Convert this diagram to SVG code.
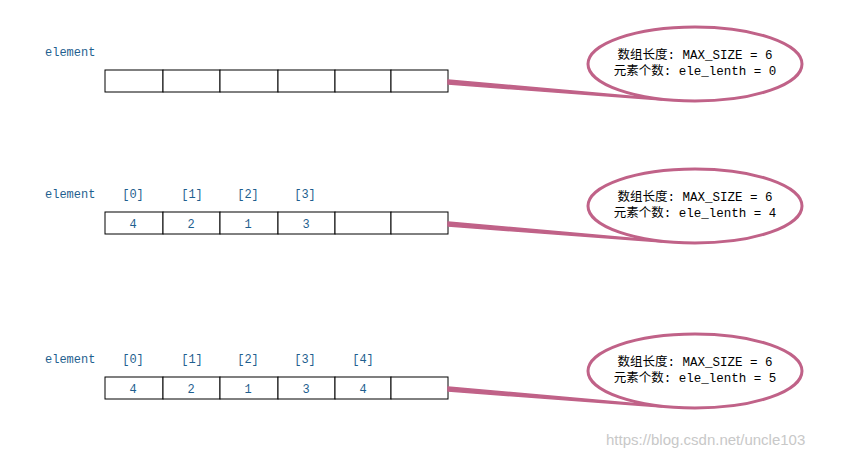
<svg xmlns="http://www.w3.org/2000/svg" width="853" height="457" viewBox="0 0 853 457">
<style>
.lbl{font-family:"Liberation Mono","Noto Sans CJK SC",monospace;font-size:12px;fill:#1f5f8f}
.num{font-family:"Liberation Mono",monospace;font-size:12px;fill:#1f5f8f;text-anchor:middle}
.cell{fill:#fff;stroke:#000;stroke-width:1}
.ell{fill:#fff;stroke:#c06288;stroke-width:3}
.tail{fill:#c06288;stroke:#c06288;stroke-width:1.5;stroke-linejoin:round}
.ct{font-family:"Liberation Mono","Noto Sans CJK SC",monospace;font-size:12.5px;fill:#000;text-anchor:middle}
.wm{font-family:"Liberation Sans",sans-serif;font-size:15px;fill:#c8c8c8}
</style>
<rect width="853" height="457" fill="#fff"/>
<g id="row1">
<text class="lbl" x="45" y="56">element</text>
<g transform="translate(0,70)">
<rect class="cell" x="105" y="0" width="58" height="22"/><rect class="cell" x="163" y="0" width="57" height="22"/><rect class="cell" x="220" y="0" width="58" height="22"/><rect class="cell" x="278" y="0" width="57" height="22"/><rect class="cell" x="335" y="0" width="56" height="22"/><rect class="cell" x="391" y="0" width="57" height="22"/>
</g>
</g>
<g id="row2">
<text class="lbl" x="45" y="198">element</text>
<text class="num" x="133" y="198">[0]</text><text class="num" x="192" y="198">[1]</text><text class="num" x="248" y="198">[2]</text><text class="num" x="305" y="198">[3]</text>
<g transform="translate(0,212)">
<rect class="cell" x="105" y="0" width="58" height="22"/><rect class="cell" x="163" y="0" width="57" height="22"/><rect class="cell" x="220" y="0" width="58" height="22"/><rect class="cell" x="278" y="0" width="57" height="22"/><rect class="cell" x="335" y="0" width="56" height="22"/><rect class="cell" x="391" y="0" width="57" height="22"/>
<text class="num" x="133" y="16">4</text><text class="num" x="191" y="16">2</text><text class="num" x="248" y="16">1</text><text class="num" x="306" y="16">3</text>
</g>
</g>
<g id="row3">
<text class="lbl" x="45" y="363">element</text>
<text class="num" x="133" y="363">[0]</text><text class="num" x="192" y="363">[1]</text><text class="num" x="248" y="363">[2]</text><text class="num" x="305" y="363">[3]</text><text class="num" x="363" y="363">[4]</text>
<g transform="translate(0,377)">
<rect class="cell" x="105" y="0" width="58" height="22"/><rect class="cell" x="163" y="0" width="57" height="22"/><rect class="cell" x="220" y="0" width="58" height="22"/><rect class="cell" x="278" y="0" width="57" height="22"/><rect class="cell" x="335" y="0" width="56" height="22"/><rect class="cell" x="391" y="0" width="57" height="22"/>
<text class="num" x="133" y="16">4</text><text class="num" x="191" y="16">2</text><text class="num" x="248" y="16">1</text><text class="num" x="306" y="16">3</text><text class="num" x="363" y="16">4</text>
</g>
</g>
<g id="callout1">
<ellipse class="ell" cx="695" cy="64" rx="107" ry="37"/>
<text class="ct" x="695" y="59">数组长度: MAX_SIZE = 6</text>
<text class="ct" x="695" y="75">元素个数: ele_lenth = 0</text>
</g>
<g id="callout2">
<ellipse class="ell" cx="695" cy="206" rx="107" ry="37"/>
<text class="ct" x="695" y="201">数组长度: MAX_SIZE = 6</text>
<text class="ct" x="695" y="217">元素个数: ele_lenth = 4</text>
</g>
<g id="callout3">
<ellipse class="ell" cx="695" cy="371" rx="107" ry="37"/>
<text class="ct" x="695" y="366">数组长度: MAX_SIZE = 6</text>
<text class="ct" x="695" y="382">元素个数: ele_lenth = 5</text>
</g>
<g id="connectors">
<path class="tail" d="M448,80 L640,97 L662,100 L448,84 Z"/>
<path class="tail" d="M448,222 L640,239 L662,242 L448,226 Z"/>
<path class="tail" d="M448,387 L640,404 L662,407 L448,391 Z"/>
</g>
<text class="wm" x="606" y="445">https://blog.csdn.net/uncle103</text>
</svg>
